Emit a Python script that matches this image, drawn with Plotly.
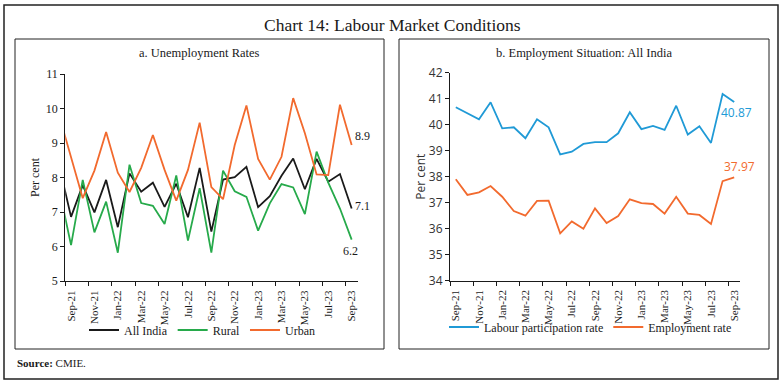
import numpy as np
import plotly.graph_objects as go

W, H = 783, 385

# ---------------- data ----------------
# Panel a: months (Aug-21 is the clipped lead-in point at the left edge)
months_a = ["Aug-21", "Sep-21", "Oct-21", "Nov-21", "Dec-21", "Jan-22", "Feb-22", "Mar-22",
            "Apr-22", "May-22", "Jun-22", "Jul-22", "Aug-22", "Sep-22", "Oct-22", "Nov-22",
            "Dec-22", "Jan-23", "Feb-23", "Mar-23", "Apr-23", "May-23", "Jun-23", "Jul-23",
            "Aug-23", "Sep-23"]
all_india = [8.32, 6.86, 7.78, 6.99, 7.93, 6.56, 8.12, 7.59, 7.85, 7.15, 7.82, 6.85, 8.28,
             6.43, 7.94, 8.01, 8.31, 7.14, 7.46, 8.05, 8.55, 7.66, 8.54, 7.88, 8.10, 7.10]
rural = [7.64, 6.04, 7.93, 6.41, 7.30, 5.82, 8.37, 7.26, 7.18, 6.65, 8.06, 6.17, 7.69,
         5.82, 8.20, 7.60, 7.44, 6.46, 7.25, 7.81, 7.71, 6.94, 8.75, 7.85, 7.10, 6.20]
urban = [9.78, 8.62, 7.40, 8.20, 9.32, 8.14, 7.58, 8.28, 9.23, 8.22, 7.33, 8.22, 9.59,
         7.72, 7.37, 8.94, 10.09, 8.54, 7.94, 8.60, 10.30, 9.28, 8.09, 8.07, 10.11, 8.94]

# Panel b: Sep-21 .. Sep-23
months_b = months_a[1:]
lpr = [40.67, 40.44, 40.21, 40.86, 39.86, 39.90, 39.48, 40.21, 39.90, 38.86, 38.96, 39.26,
       39.33, 39.33, 39.67, 40.48, 39.83, 39.95, 39.80, 40.73, 39.62, 39.94, 39.30, 41.18, 40.87]
emp_rate = [37.90, 37.30, 37.40, 37.64, 37.23, 36.68, 36.50, 37.07, 37.08, 35.82, 36.28, 36.00,
            36.78, 36.22, 36.49, 37.13, 36.98, 36.95, 36.58, 37.23, 36.58, 36.53, 36.18, 37.83, 37.97]

tick_labels = months_b[::2]

# ---------------- helpers ----------------
def px(x):
    return x / W

def py(y):
    return 1 - y / H

SERIF = "Liberation Serif"
SANS = "Open Sans"

BLACK = "#1a1a1a"
GREEN = "#27aa4b"
ORANGE = "#f26a2e"
BLUE = "#209ad6"
ORANGE_B = "#f26a2e"

xa = np.arange(len(months_a)) - 1      # Aug-21 -> -1, Sep-21 -> 0
xb = np.arange(len(months_b))
tickpos = list(range(0, len(months_b), 2))

fig = go.Figure()

fig.add_trace(go.Scatter(x=xa, y=all_india, mode="lines", name="All India",
                         line=dict(color=BLACK, width=1.8), xaxis="x", yaxis="y", legend="legend"))
fig.add_trace(go.Scatter(x=xa, y=rural, mode="lines", name="Rural",
                         line=dict(color=GREEN, width=1.8), xaxis="x", yaxis="y", legend="legend"))
fig.add_trace(go.Scatter(x=xa, y=urban, mode="lines", name="Urban",
                         line=dict(color=ORANGE, width=1.8), xaxis="x", yaxis="y", legend="legend"))

fig.add_trace(go.Scatter(x=xb, y=lpr, mode="lines", name="Labour participation rate",
                         line=dict(color=BLUE, width=1.8), xaxis="x2", yaxis="y2", legend="legend2"))
fig.add_trace(go.Scatter(x=xb, y=emp_rate, mode="lines", name="Employment rate",
                         line=dict(color=ORANGE_B, width=1.8), xaxis="x2", yaxis="y2", legend="legend2"))

def xaxis_common(domain, font):
    return dict(
        domain=domain, range=[-0.5, len(months_b) - 0.5], automargin=False,
        tickmode="array", tickvals=tickpos, ticktext=tick_labels, tickangle=-90,
        ticks="outside", ticklen=4, tickcolor="rgba(0,0,0,0)",
        minor=dict(tickmode="linear", tick0=-0.5, dtick=2, ticks="outside",
                   ticklen=4, tickcolor=BLACK, tickwidth=1),
        showline=True, linecolor=BLACK, linewidth=1, showgrid=False, zeroline=False,
        tickfont=dict(family=font, size=11, color=BLACK), fixedrange=True,
    )

def yaxis_common(domain, rng, font, color, standoff):
    return dict(
        domain=domain, range=rng, dtick=1, ticks="outside", ticklen=4, tickcolor=BLACK,
        automargin=False, fixedrange=True,
        showline=True, linecolor=BLACK, linewidth=1, showgrid=False, zeroline=False,
        tickfont=dict(family=font, size=12, color=color),
        title=dict(text="Per cent", font=dict(family=font, size=12, color=color), standoff=standoff),
    )

fig.update_layout(
    template="none",
    width=W, height=H, margin=dict(l=0, r=0, t=0, b=0, autoexpand=False),
    paper_bgcolor="white", plot_bgcolor="white",
    xaxis=dict(xaxis_common([px(65.2), px(357.5)], SERIF), anchor="y"),
    yaxis=dict(yaxis_common([py(281), py(74)], [5, 11], SERIF, BLACK, 3), anchor="x"),
    xaxis2=dict(xaxis_common([px(450), px(740)], SERIF), anchor="y2"),
    yaxis2=dict(yaxis_common([py(280.7), py(72.7)], [34, 42], SANS, "#333333", 0), anchor="x2"),
    legend=dict(orientation="h", x=px(84), y=py(330), xanchor="left", yanchor="middle",
                font=dict(family=SERIF, size=12, color=BLACK), bgcolor="rgba(0,0,0,0)",
                borderwidth=0, tracegroupgap=0, itemclick=False, itemdoubleclick=False),
    legend2=dict(orientation="h", x=px(444), y=py(327), xanchor="left", yanchor="middle",
                 font=dict(family=SERIF, size=12, color=BLACK), bgcolor="rgba(0,0,0,0)",
                 borderwidth=0, itemclick=False, itemdoubleclick=False),
    showlegend=True,
    hovermode=False,
)

# frames
shapes = [
    dict(type="rect", xref="paper", yref="paper", x0=px(4), x1=px(778), y0=py(379), y1=py(5),
         line=dict(color="#222222", width=1.5)),
    dict(type="rect", xref="paper", yref="paper", x0=px(15), x1=px(384), y0=py(349), y1=py(39),
         line=dict(color="#222222", width=1)),
    dict(type="rect", xref="paper", yref="paper", x0=px(399), x1=px(769), y0=py(349), y1=py(39),
         line=dict(color="#222222", width=1)),
]
fig.update_layout(shapes=shapes)

ann = [
    dict(text="Chart 14: Labour Market Conditions", x=px(392), y=py(25), xref="paper", yref="paper",
         showarrow=False, font=dict(family=SERIF, size=17.5, color=BLACK), xanchor="center", yanchor="middle"),
    dict(text="a. Unemployment Rates", x=px(199), y=py(53), xref="paper", yref="paper",
         showarrow=False, font=dict(family=SERIF, size=12.5, color=BLACK), xanchor="center", yanchor="middle"),
    dict(text="b. Employment Situation: All India", x=px(584), y=py(53), xref="paper", yref="paper",
         showarrow=False, font=dict(family=SERIF, size=12.5, color=BLACK), xanchor="center", yanchor="middle"),
    dict(text="<b>Source:</b> CMIE.", x=px(15), y=py(363), xref="paper", yref="paper",
         showarrow=False, font=dict(family=SERIF, size=11, color=BLACK), xanchor="left", yanchor="middle"),
    # end labels panel a
    dict(text=f"{urban[-1]:.1f}", x=xa[-1], y=urban[-1], xref="x", yref="y", showarrow=False,
         xanchor="left", yanchor="middle", xshift=1, yshift=9,
         font=dict(family=SERIF, size=12, color=BLACK)),
    dict(text=f"{all_india[-1]:.1f}", x=xa[-1], y=all_india[-1], xref="x", yref="y", showarrow=False,
         xanchor="left", yanchor="middle", xshift=1, yshift=3,
         font=dict(family=SERIF, size=12, color=BLACK)),
    dict(text=f"{rural[-1]:.1f}", x=xa[-1], y=rural[-1], xref="x", yref="y", showarrow=False,
         xanchor="center", yanchor="middle", xshift=-1, yshift=-11,
         font=dict(family=SERIF, size=12, color=BLACK)),
    # end labels panel b
    dict(text=f"{lpr[-1]:.2f}", x=xb[-1], y=lpr[-1], xref="x2", yref="y2", showarrow=False,
         xanchor="center", yanchor="middle", xshift=2, yshift=-10,
         font=dict(family=SANS, size=12, color=BLUE)),
    dict(text=f"{emp_rate[-1]:.2f}", x=xb[-1], y=emp_rate[-1], xref="x2", yref="y2", showarrow=False,
         xanchor="center", yanchor="middle", xshift=5, yshift=11,
         font=dict(family=SANS, size=12, color=ORANGE_B)),
]
fig.update_layout(annotations=ann)

fig.write_html("out.html",
               config={"displayModeBar": False, "staticPlot": True},
               post_script="document.body.style.margin='0';document.body.style.overflow='hidden';")
